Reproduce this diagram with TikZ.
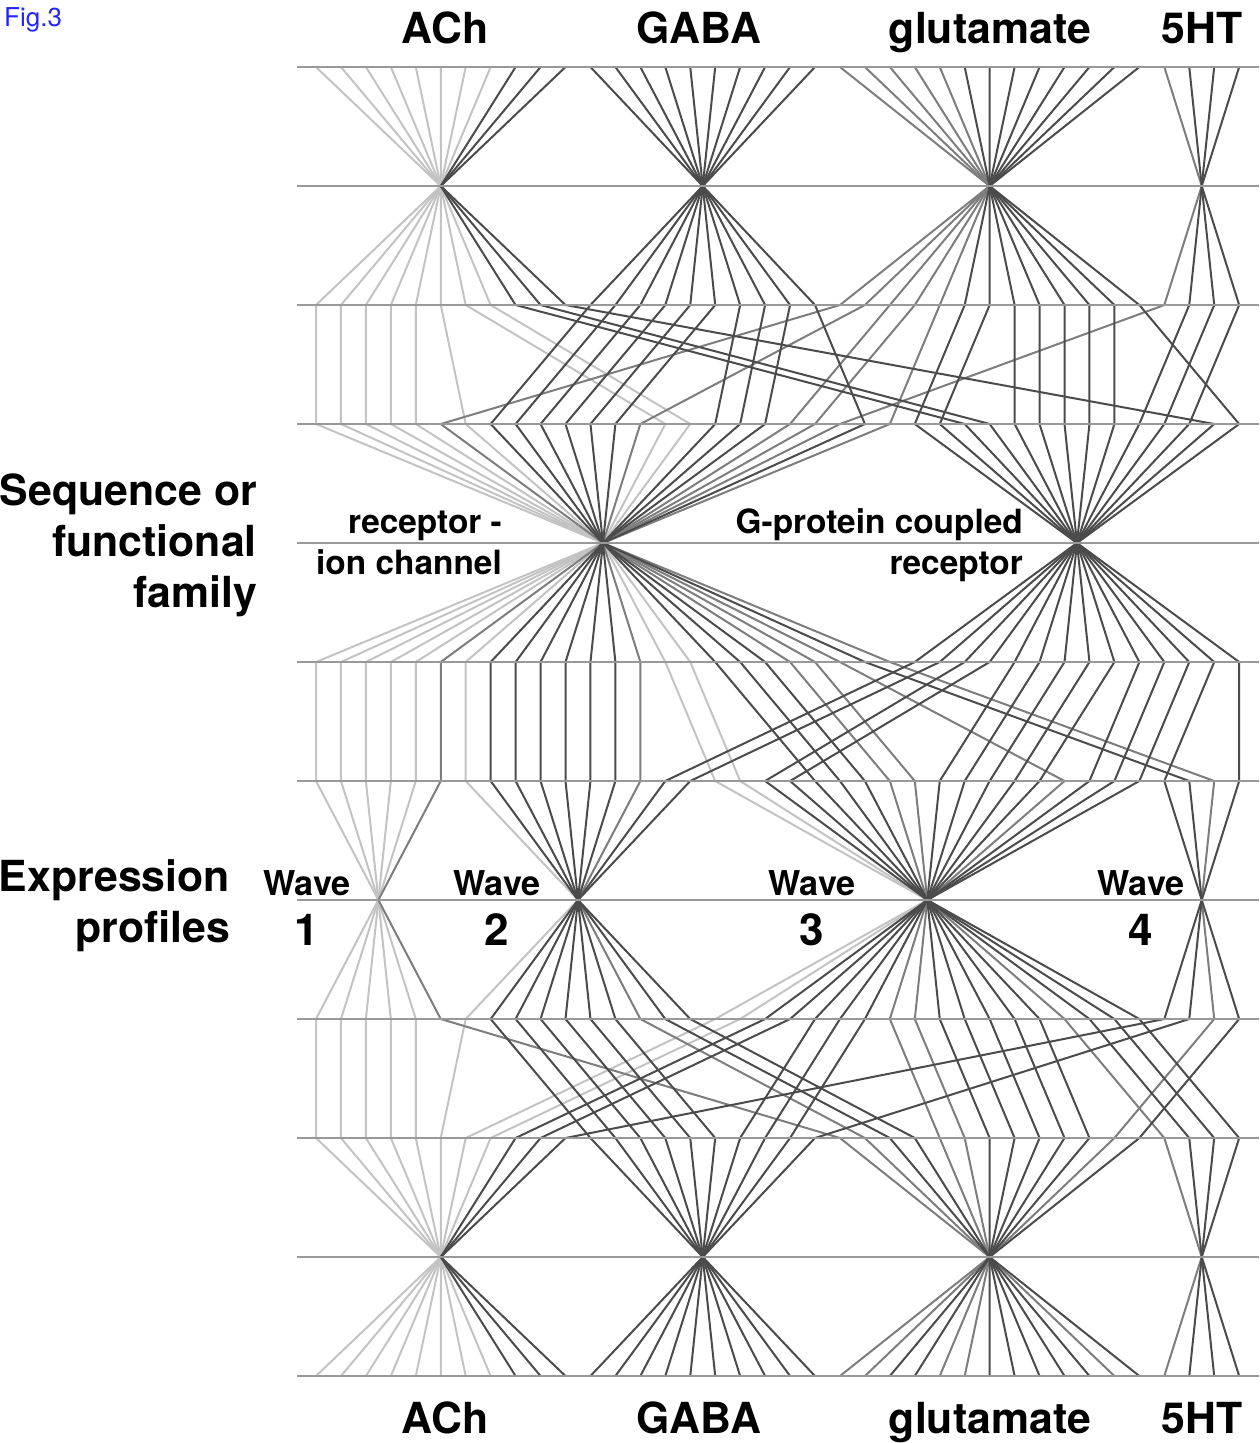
\documentclass[tikz,border=0pt]{standalone}
\usepackage{fontspec}
\setmainfont{TeX Gyre Heros}
\definecolor{lightln}{HTML}{C3C3C3}
\definecolor{midln}{HTML}{7D7D7D}
\definecolor{darkln}{HTML}{4B4B4B}
\definecolor{axisln}{HTML}{999999}
\definecolor{figblue}{HTML}{2424FF}
\begin{document}
\begin{tikzpicture}[x=1pt,y=-1pt,
  declare function={sx(\k)=316+24.95*\k;},
  axisline/.style={draw=axisln,line width=2.8pt},
  gene/.style={draw=#1,line width=2pt,line join=miter},
  biglabel/.style={font=\fontsize{42.8}{48}\selectfont\bfseries,inner sep=0pt},
  famlabel/.style={font=\fontsize{33.4}{38}\selectfont\bfseries,inner sep=0pt},
  wavelabel/.style={font=\fontsize{34.2}{40}\selectfont\bfseries,inner sep=0pt},
  wavenum/.style={font=\fontsize{44}{50}\selectfont\bfseries,inner sep=0pt}]
\useasboundingbox (0,0) rectangle (1259,1443);

% hubs: transmitter (top and bottom), receptor family, expression wave
\foreach \n/\s in {0/5,1/15.5,2/27,3/35.5}{
  \coordinate (nt\n-top) at ({sx(\s)},186);
  \coordinate (nt\n-bot) at ({sx(\s)},1257);
}
\coordinate (fam0) at ({sx(11.5)},543);
\coordinate (fam1) at ({sx(30.5)},543);
\foreach \w/\s in {0/2.5,1/10.5,2/24.5,3/35.5}{
  \coordinate (wav\w) at ({sx(\s)},900);
}

% one polyline per gene: slot a (transmitter order), b (family order),
% c (wave order), d (bottom transmitter order), transmitter n, family f, wave w
\newcommand{\genepath}[8]{%
  \draw[gene=#8] ({sx(#1)},67) -- (nt#5-top) -- ({sx(#1)},305)
    -- ({sx(#2)},424) -- (fam#6) -- ({sx(#2)},662)
    -- ({sx(#3)},781) -- (wav#7) -- ({sx(#3)},1019)
    -- ({sx(#4)},1138) -- (nt#5-bot) -- ({sx(#4)},1376);}

% nicotinic receptors
\foreach \a/\b/\c/\d/\n/\f/\w in {0/0/0/0/0/0/0,1/1/1/1/0/0/0,2/2/2/2/0/0/0,
  3/3/3/3/0/0/0,4/4/4/4/0/0/0,5/6/6/5/0/0/1,6/14/16/6/0/0/2,7/15/17/7/0/0/2}
  {\genepath{\a}{\b}{\c}{\d}{\n}{\f}{\w}{lightln}}

% ionotropic glutamate and 5HT3 receptors
\foreach \a/\b/\c/\d/\n/\f/\w in {21/5/5/21/2/0/0,22/13/13/22/2/0/1,
  23/19/23/25/2/0/2,24/20/24/26/2/0/2,25/23/36/32/2/0/3,34/21/30/34/3/0/2}
  {\genepath{\a}{\b}{\c}{\d}{\n}{\f}{\w}{midln}}

% muscarinic, GABA, metabotropic glutamate and 5HT G-protein coupled receptors
\foreach \a/\b/\c/\d/\n/\f/\w in {8/26/18/8/0/1/2,9/27/19/9/0/1/2,10/36/34/10/0/1/3,
  11/7/7/11/1/0/1,12/8/8/12/1/0/1,13/9/9/13/1/0/1,14/10/10/14/1/0/1,
  15/11/11/15/1/0/1,16/12/12/16/1/0/1,
  17/16/20/17/1/0/2,18/17/21/18/1/0/2,19/18/22/19/1/0/2,20/22/35/20/1/0/3,
  26/24/14/23/2/1/1,27/25/15/24/2/1/1,28/28/25/27/2/1/2,29/29/26/28/2/1/2,
  30/30/27/29/2/1/2,31/31/28/30/2/1/2,32/32/29/31/2/1/2,33/37/37/33/2/1/3,
  35/33/31/35/3/1/2,36/34/32/36/3/1/2,37/35/33/37/3/1/2}
  {\genepath{\a}{\b}{\c}{\d}{\n}{\f}{\w}{darkln}}

% level lines
\foreach \y in {67,186,305,424,543,662,781,900,1019,1138,1257,1376}
  {\draw[axisline] (297,\y) -- (1259,\y);}

% transmitter names
\foreach \nm/\x/\t in {ach/445/ACh,gaba/699/GABA,glu/990/glutamate,ht/1202/5HT}{
  \node[biglabel,anchor=base] (\nm-top) at (\x,43) {\t};
  \node[biglabel,anchor=base] (\nm-bot) at (\x,1433) {\t};
}

% row titles
\node[biglabel,anchor=base east] (seq1) at (257,505) {Sequence or};
\node[biglabel,anchor=base east] (seq2) at (257,556) {functional};
\node[biglabel,anchor=base east] (seq3) at (257,607) {family};
\node[biglabel,anchor=base east] (exp1) at (230,891) {Expression};
\node[biglabel,anchor=base east] (exp2) at (230,942) {profiles};

% family names
\node[famlabel,anchor=base east] (ion1) at (502,533) {receptor -};
\node[famlabel,anchor=base east] (ion2) at (502,574) {ion channel};
\node[famlabel,anchor=base east] (gpc1) at (1023,533) {G-protein coupled};
\node[famlabel,anchor=base east] (gpc2) at (1023,574) {receptor};

% wave names
\foreach \i/\x in {1/307,2/497,3/812,4/1141}{
  \node[wavelabel,anchor=base] (wave\i) at (\x,895) {Wave};
  \node[wavenum,anchor=base] (num\i) at (\x,945) {\i};
}

\node[font=\fontsize{26}{30}\selectfont,text=figblue,anchor=base west,inner sep=0pt]
  (figno) at (4,26) {Fig.3};
\end{tikzpicture}
\end{document}
